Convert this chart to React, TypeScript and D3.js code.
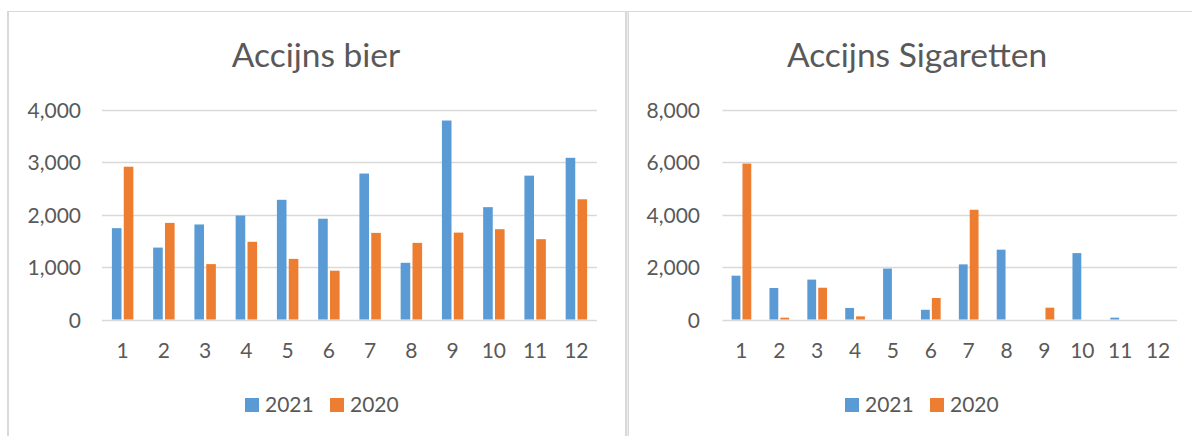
import React from "react";
import * as d3 from "d3";

const months = ["1", "2", "3", "4", "5", "6", "7", "8", "9", "10", "11", "12"];
const seriesNames = ["2021", "2020"];

const bier2021 = [1740, 1370, 1810, 1980, 2280, 1920, 2780, 1080, 3790, 2140, 2740, 3080];
const bier2020 = [2910, 1840, 1055, 1480, 1155, 930, 1650, 1460, 1655, 1720, 1530, 2290];
const bierTicks = [0, 1000, 2000, 3000, 4000];

const sig2021 = [1670, 1200, 1520, 440, 1940, 370, 2100, 2660, 0, 2530, 70, 0];
const sig2020 = [5940, 70, 1210, 120, 0, 820, 4180, 0, 450, 0, 0, 0];
const sigTicks = [0, 2000, 4000, 6000, 8000];

const COLORS = ["#5B9BD5", "#ED7D31"];
const TEXT = "#595959";
const GRID = "#d9d9d9";
const FONT = "Lato, 'Open Sans', sans-serif";

type ChartProps = {
  title: string;
  series: number[][];
  ticks: number[];
  x0: number;
  x1: number;
  labelRight: number;
  titleX: number;
  legendX: number;
};

function Chart({ title, series, ticks, x0, x1, labelRight, titleX, legendX }: ChartProps) {
  const y = d3.scaleLinear().domain([0, ticks[ticks.length - 1]]).range([319.5, 109.5]);
  const x = d3.scaleBand().domain(months).range([x0, x1]).paddingInner(0.48).paddingOuter(0.24);
  const xi = d3.scaleBand().domain(seriesNames).range([0, x.bandwidth()]).paddingInner(0.19);
  const fmt = d3.format(",");
  return (
    <g>
      <text x={titleX} y={67} textAnchor="middle" fontSize={33.5} fill={TEXT} fontFamily={FONT}>
        {title}
      </text>
      {ticks.map((t) => {
        const yy = Math.round(y(t)) + 0.5;
        return (
          <g key={t}>
            <line x1={x0} x2={x1} y1={yy} y2={yy} stroke={GRID} strokeWidth={1.3} />
            <text x={labelRight} y={yy} dy="0.36em" textAnchor="end" fontSize={21} fill={TEXT} fontFamily={FONT}>
              {fmt(t)}
            </text>
          </g>
        );
      })}
      {series.map((vals, si) =>
        vals.map((v, i) =>
          v > 0 ? (
            <rect
              key={`${si}-${i}`}
              x={(x(months[i]) ?? 0) + (xi(seriesNames[si]) ?? 0)}
              y={y(v)}
              width={xi.bandwidth()}
              height={y(0) - y(v)}
              fill={COLORS[si]}
            />
          ) : null
        )
      )}
      {months.map((m) => (
        <text
          key={m}
          x={(x(m) ?? 0) + x.bandwidth() / 2}
          y={358}
          textAnchor="middle"
          fontSize={21}
          fill={TEXT}
          fontFamily={FONT}
        >
          {m}
        </text>
      ))}
      {seriesNames.map((s, si) => {
        const lx = legendX - 76 + si * 85;
        return (
          <g key={s}>
            <rect x={lx} y={398} width={14} height={14} fill={COLORS[si]} />
            <text x={lx + 20} y={412} fontSize={21} fill={TEXT} fontFamily={FONT}>
              {s}
            </text>
          </g>
        );
      })}
    </g>
  );
}

export default function App() {
  return (
    <svg
      width={1192}
      height={436}
      style={{ position: "absolute", left: 0, top: 0, background: "#fff" }}
    >
      <rect x={0} y={0} width={1192} height={436} fill="#fff" />
      <line x1={7} x2={1192} y1={11.5} y2={11.5} stroke={GRID} strokeWidth={1} />
      <rect x={7} y={11} width={2} height={425} fill={GRID} />
      <rect x={625} y={11} width={4} height={425} fill={GRID} />
      <line x1={627.5} x2={627.5} y1={12} y2={436} stroke="#ececec" strokeWidth={1} />
      <Chart
        title="Accijns bier"
        series={[bier2021, bier2020]}
        ticks={bierTicks}
        x0={102}
        x1={597}
        labelRight={81}
        titleX={316}
        legendX={321}
      />
      <Chart
        title="Accijns Sigaretten"
        series={[sig2021, sig2020]}
        ticks={sigTicks}
        x0={722.5}
        x1={1177}
        labelRight={700}
        titleX={917}
        legendX={921}
      />
    </svg>
  );
}
